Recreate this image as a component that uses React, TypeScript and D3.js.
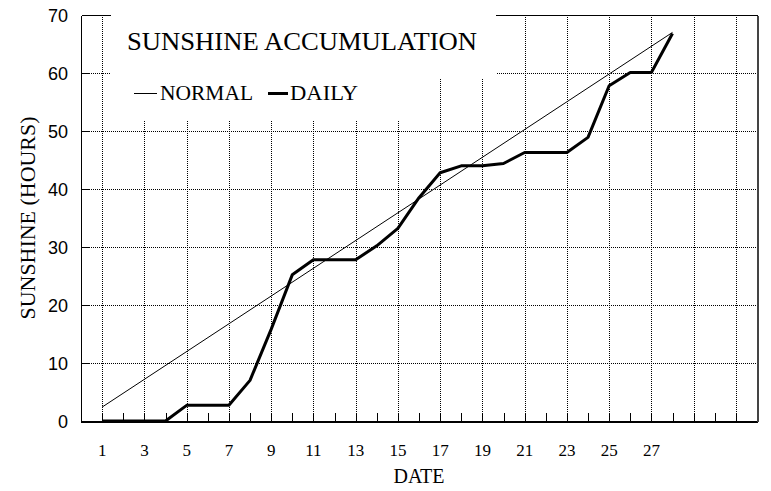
import { useEffect, useRef } from "react"
import * as d3 from "d3"

// accumulated daily sunshine
const days = [1, 2, 3, 4, 5, 6, 7, 8, 9, 10, 11, 12, 13, 14, 15, 16, 17, 18, 19, 20, 21, 22, 23, 24, 25, 26, 27, 28]
const daily = [0, 0, 0, 0, 2.7, 2.7, 2.7, 7, 15.8, 25.2, 27.8, 27.8, 27.8, 30.2, 33.2, 38.5, 42.8, 44, 44, 44.4, 46.3, 46.3, 46.3, 48.9, 57.8, 60.1, 60.1, 66.8]
// normal accumulation is a straight line
const normalDays = [1, 28]
const normal = [2.4, 67]

const yTicks = [0, 10, 20, 30, 40, 50, 60, 70]
const xMinor = d3.range(1, 32)
const xGrid = [1, 3, 5, 7, 9, 11, 13, 15, 17, 19, 21, 23, 25, 27, 29, 31]
const xLabels = [1, 3, 5, 7, 9, 11, 13, 15, 17, 19, 21, 23, 25, 27]

const SERIF = "'Liberation Serif', 'DejaVu Serif', serif"
const SANS = "'Liberation Sans', 'DejaVu Sans', sans-serif"

export default function App() {
    const svgRef = useRef(null)

    useEffect(() => {
        const width = 771
        const height = 491
        const margin = { top: 15, right: 14, bottom: 70, left: 81 }

        d3.select(svgRef.current).selectAll("*").remove()

        const svg = d3.select(svgRef.current).attr("width", width).attr("height", height)

        svg.append("rect").attr("width", width).attr("height", height).attr("fill", "#fff")

        const x = d3.scaleLinear().domain([0, 32]).range([margin.left, width - margin.right])
        const y = d3.scaleLinear().domain([0, 70]).range([height - margin.bottom, margin.top])
        const px = (v) => Math.round(v) + 0.5

        const x0 = x(0)
        const x1 = x(32)
        const y0 = y(0)
        const y1 = y(70)

        // grid
        const grid = svg.append("g").attr("stroke", "#000").attr("stroke-width", 1)
            .attr("stroke-dasharray", "1,1").attr("shape-rendering", "crispEdges")
        grid.selectAll(".h").data(yTicks.slice(1, -1)).enter().append("line")
            .attr("x1", x0).attr("x2", x1)
            .attr("y1", (d) => px(y(d))).attr("y2", (d) => px(y(d)))
        grid.selectAll(".v").data(xGrid).enter().append("line")
            .attr("x1", (d) => px(x(d))).attr("x2", (d) => px(x(d)))
            .attr("y1", y1).attr("y2", y0)

        // title + legend backgrounds
        svg.append("rect").attr("x", 111).attr("y", y1 - 2).attr("width", 385).attr("height", 80 - y1)
            .attr("fill", "#fff")
        svg.append("rect").attr("x", 111).attr("y", 78).attr("width", 321).attr("height", 42)
            .attr("fill", "#fff")

        // frame
        const frame = svg.append("g").attr("stroke", "#000").attr("fill", "none")
            .attr("shape-rendering", "crispEdges")
        frame.append("line").attr("x1", px(x0)).attr("x2", px(x0)).attr("y1", px(y1)).attr("y2", px(y0) + 1)
        frame.append("line").attr("x1", px(x0)).attr("x2", px(x1)).attr("y1", px(y0)).attr("y2", px(y0))
            .attr("stroke-width", 2)
        frame.append("line").attr("x1", px(x0)).attr("x2", 111).attr("y1", px(y1)).attr("y2", px(y1))
        frame.append("line").attr("x1", 496).attr("x2", px(x1)).attr("y1", px(y1)).attr("y2", px(y1))
        frame.append("line").attr("x1", px(x1)).attr("x2", px(x1)).attr("y1", px(y1)).attr("y2", px(y0))
            .attr("stroke", "#444").attr("stroke-width", 2)

        // ticks
        frame.selectAll(".yt").data(yTicks.slice(0, -1)).enter().append("line")
            .attr("x1", x0).attr("x2", x0 + 8)
            .attr("y1", (d) => px(y(d))).attr("y2", (d) => px(y(d)))
        frame.selectAll(".xt").data(xMinor).enter().append("line")
            .attr("x1", (d) => px(x(d))).attr("x2", (d) => px(x(d)))
            .attr("y1", y0).attr("y2", y0 - 8)

        // tick labels
        svg.append("g").selectAll("text").data(yTicks).enter().append("text")
            .attr("x", 68).attr("y", (d) => y(d) + 7)
            .attr("text-anchor", "end")
            .style("font-family", SANS).style("font-size", "18px")
            .text((d) => d)
        svg.append("g").selectAll("text").data(xLabels).enter().append("text")
            .attr("x", (d) => x(d)).attr("y", 456)
            .attr("text-anchor", "middle")
            .style("font-family", SERIF).style("font-size", "17px")
            .text((d) => d)

        // axis titles
        svg.append("text").attr("x", (x0 + x1) / 2).attr("y", 483).attr("text-anchor", "middle")
            .style("font-family", SERIF).style("font-size", "20px")
            .text("DATE")
        svg.append("text").attr("transform", `translate(35,${(y0 + y1) / 2}) rotate(-90)`)
            .attr("text-anchor", "middle").attr("textLength", 203).attr("lengthAdjust", "spacingAndGlyphs")
            .style("font-family", SERIF).style("font-size", "20px")
            .text("SUNSHINE (HOURS)")

        // title and legend
        svg.append("text").attr("x", 127).attr("y", 50).attr("textLength", 350)
            .attr("lengthAdjust", "spacingAndGlyphs")
            .style("font-family", SERIF).style("font-size", "25px")
            .text("SUNSHINE ACCUMULATION")
        svg.append("line").attr("x1", 134).attr("x2", 157).attr("y1", 93.5).attr("y2", 93.5)
            .attr("stroke", "#000").attr("stroke-width", 1)
        svg.append("text").attr("x", 160).attr("y", 100).attr("textLength", 93)
            .attr("lengthAdjust", "spacingAndGlyphs")
            .style("font-family", SERIF).style("font-size", "21px")
            .text("NORMAL")
        svg.append("line").attr("x1", 268).attr("x2", 288).attr("y1", 93.5).attr("y2", 93.5)
            .attr("stroke", "#000").attr("stroke-width", 3)
        svg.append("text").attr("x", 290).attr("y", 100).attr("textLength", 68)
            .attr("lengthAdjust", "spacingAndGlyphs")
            .style("font-family", SERIF).style("font-size", "21px")
            .text("DAILY")

        // series
        const line = d3.line().x((d) => x(d[0])).y((d) => y(d[1]))
        svg.append("path").datum(d3.zip(normalDays, normal)).attr("d", line)
            .attr("fill", "none").attr("stroke", "#000").attr("stroke-width", 1)
        svg.append("path").datum(d3.zip(days, daily)).attr("d", line)
            .attr("fill", "none").attr("stroke", "#000").attr("stroke-width", 3)
            .attr("stroke-linejoin", "round")
    }, [])

    return (
        <div style={{ position: "absolute", left: 0, top: 0 }}>
            <svg ref={svgRef}></svg>
        </div>
    )
}
